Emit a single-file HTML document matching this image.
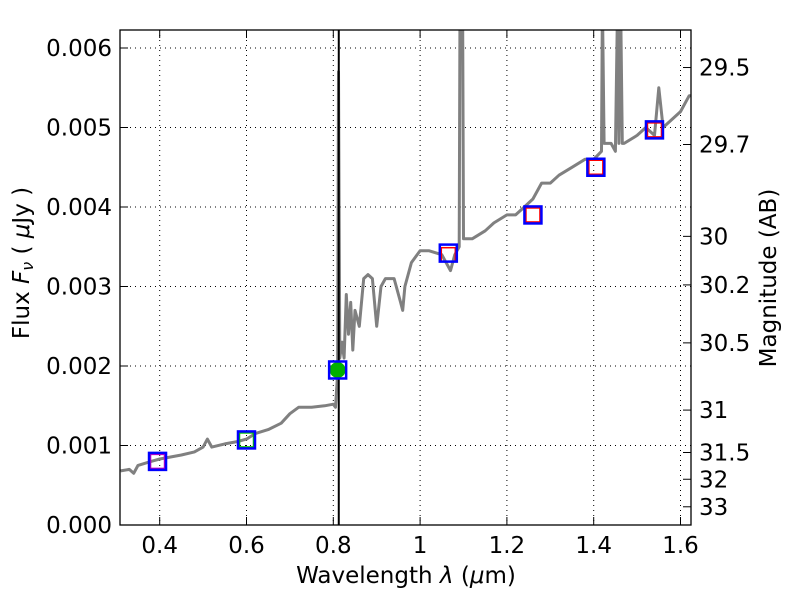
<!DOCTYPE html>
<html><head><meta charset="utf-8"><style>
body{margin:0;background:#fff}
svg text{font-family:"DejaVu Sans","Liberation Sans",sans-serif;fill:#000}
</style></head><body>
<svg id="chart" width="800" height="600" xmlns="http://www.w3.org/2000/svg">
<defs><clipPath id="clip"><rect x="120" y="30" width="571" height="495"/></clipPath></defs>
<rect x="0" y="0" width="800" height="600" fill="#fff"/>
<g id="grid"></g>
<g id="spec" clip-path="url(#clip)"></g>
<line x1="0" y1="30" x2="0" y2="525" id="vline" stroke="#000" stroke-width="2"/>
<g id="phot" clip-path="url(#clip)"></g>
<rect x="120" y="30" width="571" height="495" fill="none" stroke="#000" stroke-width="1.3"/>
<g id="axes"></g>
<text x="406" y="583" font-size="23" text-anchor="middle">Wavelength  <tspan font-style="italic">λ</tspan> (<tspan font-style="italic">μ</tspan>m)</text>
<text transform="translate(29,263) rotate(-90)" font-size="23" text-anchor="middle">Flux  <tspan font-style="italic">F</tspan><tspan font-style="italic" font-size="16" dy="4">ν</tspan><tspan dy="-4">  ( </tspan><tspan font-style="italic">μ</tspan>Jy )</text>
<text transform="translate(776,278) rotate(-90)" font-size="23" text-anchor="middle">Magnitude (AB)</text>
</svg>
<script>
const xTicks=[0.4,0.6,0.8,1.0,1.2,1.4,1.6];
const xTickLabels=["0.4","0.6","0.8","1","1.2","1.4","1.6"];
const yTicks=[0,0.001,0.002,0.003,0.004,0.005,0.006];
const yTickLabels=["0.000","0.001","0.002","0.003","0.004","0.005","0.006"];
const magTicks=[29.5,29.7,30,30.2,30.5,31,31.5,32,33];
const magTickLabels=["29.5","29.7","30","30.2","30.5","31","31.5","32","33"];
const specWave=[0.31,0.33,0.34,0.35,0.38,0.40,0.45,0.48,0.50,0.51,0.52,0.55,0.58,0.60,0.62,0.65,0.68,0.70,0.72,0.75,0.78,0.80,0.805,0.81,0.812,0.815,0.82,0.825,0.83,0.835,0.84,0.845,0.85,0.86,0.87,0.88,0.89,0.90,0.91,0.92,0.94,0.955,0.96,0.965,0.98,1.0,1.02,1.05,1.07,1.08,1.09,1.092,1.098,1.10,1.12,1.15,1.17,1.20,1.22,1.24,1.26,1.28,1.30,1.32,1.35,1.38,1.40,1.418,1.42,1.424,1.44,1.45,1.455,1.458,1.462,1.466,1.47,1.50,1.52,1.54,1.55,1.56,1.60,1.62,1.64];
const specFlux=[0.00068,0.0007,0.00065,0.00075,0.0008,0.00083,0.00088,0.00092,0.00098,0.00108,0.00098,0.00102,0.00105,0.00108,0.00115,0.0012,0.00128,0.0014,0.00148,0.00148,0.0015,0.00152,0.00148,0.0019,0.0057,0.0021,0.0023,0.0021,0.0029,0.0024,0.0028,0.0022,0.0027,0.0025,0.0031,0.00315,0.0031,0.0025,0.003,0.0031,0.0031,0.0028,0.0027,0.003,0.0033,0.00345,0.00345,0.0034,0.0032,0.0034,0.0035,0.0066,0.0066,0.0036,0.0036,0.0037,0.0038,0.0039,0.0039,0.004,0.0041,0.0043,0.0043,0.0044,0.0045,0.0046,0.0046,0.0047,0.0066,0.0048,0.0048,0.0047,0.0066,0.0048,0.0066,0.0048,0.0048,0.0049,0.005,0.0049,0.0055,0.005,0.0052,0.0054,0.0054];
const photWave=[0.395,0.60,0.81,1.065,1.26,1.405,1.54];
const photFlux=[0.0008,0.00107,0.00195,0.00342,0.0039,0.0045,0.00497];
const photModelFlux=[0.0008,0.00107,0.00195,0.0034,0.0039,0.0045,0.00497];
const modelColors=["#c000c0","#00c000","#00c000","red","red","red","red"];
const refWave=0.8126;
const X=w=>159.7+(w-0.4)*434;
const Y=f=>525-f*79.5e3;
const NS="http://www.w3.org/2000/svg";
function mk(tag,attrs,parent){const e=document.createElementNS(NS,tag);for(const k in attrs)e.setAttribute(k,attrs[k]);parent.appendChild(e);return e;}
const grid=document.getElementById('grid'),axes=document.getElementById('axes');
xTicks.forEach((t,i)=>{
 const g=mk('line',{x1:X(t),x2:X(t),y1:30,y2:525,stroke:'#000','stroke-width':1,'stroke-dasharray':'1,4'},grid);
 
 
 mk('line',{x1:X(t),x2:X(t),y1:525,y2:517,stroke:'#000'},axes);
 mk('line',{x1:X(t),x2:X(t),y1:30,y2:38,stroke:'#000'},axes);
 const tx=mk('text',{x:X(t),y:553,'font-size':23,'text-anchor':'middle'},axes);tx.textContent=xTickLabels[i];
 
 
});
yTicks.forEach((t,i)=>{
 if(t>0){const g=mk('line',{x1:120,x2:691,y1:Y(t),y2:Y(t),stroke:'#000','stroke-width':1,'stroke-dasharray':'1,4'},grid);
 
 }
 mk('line',{x1:120,x2:128,y1:Y(t),y2:Y(t),stroke:'#000'},axes);
 const tx=mk('text',{x:112,y:Y(t)+8,'font-size':23,'text-anchor':'end'},axes);tx.textContent=yTickLabels[i];
 
 
});
magTicks.forEach((m,i)=>{
 const y=Y(Math.pow(10,(23.9-m)/2.5));
 mk('line',{x1:683,x2:691,y1:y,y2:y,stroke:'#000'},axes);
 const tx=mk('text',{x:699,y:y+8,'font-size':23},axes);tx.textContent=magTickLabels[i];
 
 
});
const pts=specWave.map((w,i)=>X(w).toFixed(1)+','+Y(specFlux[i]).toFixed(1)).join(' ');
const pl=mk('polyline',{points:pts,fill:'none',stroke:'#808080','stroke-width':3,'stroke-linejoin':'round'},document.getElementById('spec'));


const vl=document.getElementById('vline');vl.setAttribute('x1',X(refWave));vl.setAttribute('x2',X(refWave));
const ph=document.getElementById('phot');
photWave.forEach((w,i)=>{
 const x=X(w),y=Y(photFlux[i]),ym=Y(photModelFlux[i]);
 if(i===2){const c=mk('circle',{cx:x,cy:ym,r:8,fill:'#00b000'},ph);
  
  }
 else{const r=mk('rect',{x:x-7,y:ym-7,width:14,height:14,fill:'none',stroke:modelColors[i],'stroke-width':1.5},ph);
  
  }
 const b=mk('rect',{x:x-8.5,y:y-8.5,width:17,height:17,fill:'none',stroke:'#0000ff','stroke-width':2.5},ph);
 
 
});
</script>
</body></html>
